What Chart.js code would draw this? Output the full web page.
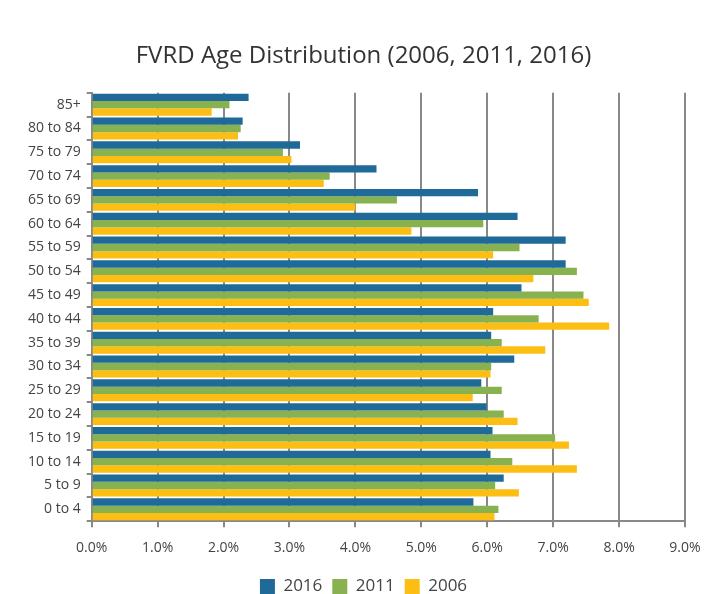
<!DOCTYPE html>
<html>
<head>
<meta charset="utf-8">
<script src="https://cdn.jsdelivr.net/npm/chart.js@4/dist/chart.umd.min.js"></script>
<style>
  html, body { margin: 0; padding: 0; background: #fff; }
  #wrap { width: 705px; height: 594px; }
</style>
</head>
<body>
<div id="wrap"><canvas id="agechart"></canvas></div>
<script>

/* data */
var ageGroups = ['85+', '80 to 84', '75 to 79', '70 to 74', '65 to 69', '60 to 64', '55 to 59', '50 to 54',
  '45 to 49', '40 to 44', '35 to 39', '30 to 34', '25 to 29', '20 to 24', '15 to 19', '10 to 14', '5 to 9', '0 to 4'];

var pct2016 = [2.38, 2.29, 3.16, 4.32, 5.86, 6.46, 7.19, 7.19, 6.52, 6.09, 6.06, 6.41, 5.91, 5.99, 6.08, 6.05, 6.25, 5.79];
var pct2011 = [2.09, 2.26, 2.90, 3.61, 4.63, 5.94, 6.49, 7.36, 7.46, 6.78, 6.22, 6.06, 6.22, 6.25, 7.03, 6.38, 6.12, 6.17];
var pct2006 = [1.82, 2.22, 3.03, 3.52, 4.00, 4.85, 6.09, 6.70, 7.54, 7.85, 6.88, 6.05, 5.78, 6.46, 7.24, 7.36, 6.48, 6.11];

var xTicks = [0, 1, 2, 3, 4, 5, 6, 7, 8, 9];

var fontName = '"Open Sans", "Noto Sans", sans-serif';

var ctx = document.getElementById('agechart').getContext('2d');
var agechart = new Chart(ctx, {
  type: 'bar',
  data: {
    labels: ageGroups,
    datasets: [{
      label: '2016',
      data: pct2016,
      backgroundColor: '#1f6a98'
    }, {
      label: '2011',
      data: pct2011,
      backgroundColor: '#88b14f'
    }, {
      label: '2006',
      data: pct2006,
      backgroundColor: '#fdbe13'
    }]
  },
  options: {
    indexAxis: 'y',
    responsive: true,
    maintainAspectRatio: false,
    animation: false,
    categoryPercentage: 0.92,
    barPercentage: 1,
    layout: { padding: { left: 22, right: 0, bottom: -11 } },
    plugins: {
      title: {
        display: true,
        text: 'FVRD Age Distribution (2006, 2011, 2016)',
        color: '#333',
        font: { family: fontName, size: 24, weight: 'normal' },
        padding: { top: 42, bottom: 22 }
      },
      legend: {
        position: 'bottom',
        labels: {
          color: '#444',
          font: { family: fontName, size: 17 },
          boxWidth: 15,
          boxHeight: 15,
          padding: 10
        }
      },
      tooltip: { enabled: false }
    },
    scales: {
      x: {
        min: 0,
        max: 9,
        afterBuildTicks: function (axis) {
          axis.ticks = xTicks.map(function (v) { return { value: v }; });
        },
        // let the last label hang past the plot a bit more, like the original
        afterFit: function (axis) {
          axis.paddingRight = 20;
        },
        ticks: {
          color: '#444',
          font: { family: fontName, size: 14 },
          padding: 12,
          callback: function (v) { return v.toFixed(1) + '%'; }
        },
        grid: { color: '#888', lineWidth: 2, tickLength: 6 },
        border: { color: '#888', width: 2 }
      },
      y: {
        ticks: {
          color: '#444',
          font: { family: fontName, size: 14 },
          padding: 6,
          autoSkip: false
        },
        grid: { offset: true, drawOnChartArea: false, color: '#888', lineWidth: 2, tickLength: 5 },
        border: { color: '#888', width: 2 }
      }
    }
  }
});

</script>
</body>
</html>
